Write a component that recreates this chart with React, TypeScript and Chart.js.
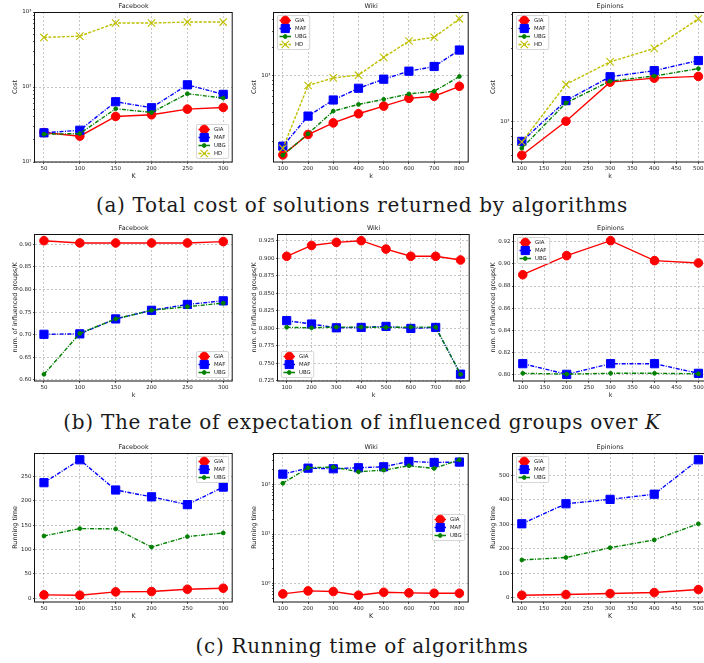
import React, { useEffect, useRef } from 'react';
import { Chart, registerables } from 'chart.js';

Chart.register(...registerables);
Chart.defaults.font.family = '"DejaVu Sans", sans-serif';

// ---------- categories / ticks ----------
const FB_K = [50, 100, 150, 200, 250, 300];
const WIKI_K = [100, 200, 300, 400, 500, 600, 700, 800];
const EPI_K = [100, 200, 300, 400, 500];
const FB_XTICKS = [50, 100, 150, 200, 250, 300];
const WIKI_XTICKS = [100, 200, 300, 400, 500, 600, 700, 800];
const EPI_XTICKS = [100, 150, 200, 250, 300, 350, 400, 450, 500];

// ---------- (a) cost ----------
const FB_COST_GIA = [24.7, 22.1, 40.5, 42.6, 50.7, 53.4];
const FB_COST_MAF = [24.5, 26.5, 63.6, 52.9, 107, 79.7];
const FB_COST_UBG = [23.5, 23.9, 51.3, 45.8, 81.4, 71.2];
const FB_COST_HD = [458, 477, 713, 713, 734, 734];
const WIKI_COST_GIA = [142, 235, 313, 392, 474, 574, 604, 773];
const WIKI_COST_MAF = [176, 370, 551, 736, 921, 1122, 1261, 1892];
const WIKI_COST_UBG = [141, 239, 419, 494, 560, 640, 683, 984];
const WIKI_COST_HD = [167, 787, 951, 1017, 1578, 2366, 2593, 4090];
const EPI_COST_GIA = [600, 1000, 1799, 1911, 1960];
const EPI_COST_MAF = [738, 1362, 1950, 2136, 2488];
const EPI_COST_UBG = [667, 1315, 1826, 1971, 2203];
const EPI_COST_HD = [731, 1737, 2437, 2985, 4656];
const FB_COST_YTICKS = [10, 100, 1000];
const WIKI_COST_YTICKS = [1000];
const EPI_COST_YTICKS = [1000];

// ---------- (b) rate ----------
const FB_RATE_GIA = [0.908, 0.903, 0.903, 0.903, 0.903, 0.906];
const FB_RATE_MAF = [0.701, 0.702, 0.735, 0.754, 0.767, 0.775];
const FB_RATE_UBG = [0.6125, 0.703, 0.735, 0.754, 0.762, 0.77];
const WIKI_RATE_GIA = [0.9027, 0.9182, 0.9226, 0.925, 0.913, 0.9027, 0.9027, 0.8974];
const WIKI_RATE_MAF = [0.8107, 0.8059, 0.8005, 0.801, 0.8025, 0.7996, 0.801, 0.7342];
const WIKI_RATE_UBG = [0.8012, 0.8005, 0.8015, 0.8015, 0.801, 0.8015, 0.8015, 0.734];
const EPI_RATE_GIA = [0.8902, 0.9074, 0.9209, 0.9029, 0.9008];
const EPI_RATE_MAF = [0.8099, 0.8003, 0.8099, 0.8099, 0.8012];
const EPI_RATE_UBG = [0.8012, 0.8005, 0.8012, 0.8012, 0.8008];
const FB_RATE_YTICKS = [0.6, 0.65, 0.7, 0.75, 0.8, 0.85, 0.9];
const WIKI_RATE_YTICKS = [0.725, 0.75, 0.775, 0.8, 0.825, 0.85, 0.875, 0.9, 0.925];
const EPI_RATE_YTICKS = [0.8, 0.82, 0.84, 0.86, 0.88, 0.9, 0.92];

// ---------- (c) running time ----------
const FB_TIME_GIA = [6.9, 6.2, 13, 13.7, 18.5, 20.6];
const FB_TIME_MAF = [237, 284, 222, 208, 192, 228];
const FB_TIME_UBG = [127.7, 142.9, 142.2, 105, 126.4, 134];
const WIKI_TIME_GIA = [0.618, 0.71, 0.689, 0.581, 0.667, 0.647, 0.637, 0.637];
const WIKI_TIME_MAF = [162, 214, 208, 218, 228, 292, 279, 284];
const WIKI_TIME_UBG = [106, 218, 225, 181, 195, 239, 211, 316];
const EPI_TIME_GIA = [9.6, 12.3, 16.4, 20.5, 32.8];
const EPI_TIME_MAF = [302, 384, 402, 423, 564];
const EPI_TIME_UBG = [154, 164, 204, 236, 302];
const FB_TIME_YTICKS = [0, 50, 100, 150, 200, 250];
const WIKI_TIME_YTICKS = [1, 10, 100];
const EPI_TIME_YTICKS = [0, 100, 200, 300, 400, 500];

// ---------- styles ----------
const STYLE: Record<string, any> = {
  GIA: { color: '#ff0000', dash: [], pointStyle: 'circle', r: 4.3, bw: 1 },
  MAF: { color: '#0000ff', dash: [4, 1.4, 1, 1.4], pointStyle: 'rect', r: 5.8, bw: 1 },
  UBG: { color: '#008000', dash: [4, 1.4, 1, 1.4], pointStyle: 'circle', r: 1.9, bw: 1 },
  HD: { color: '#bfbf00', dash: [3, 1.5], pointStyle: 'crossRot', r: 5.2, bw: 1.1 },
};

const TEXT = '#222';
const GRID = 'rgba(170,170,170,0.85)';
const TICK_FS = 5.5;
const LABEL_FS = 6.4;
const TITLE_FS = 6.4;
const LEG_FS = 5.4;
const LINE_W = 1.4;

const ROW1 = { top: 12, bottom: 162 };
const ROW2 = { top: 234, bottom: 381 };
const ROW3 = { top: 453, bottom: 602 };

const SUPER: Record<string, string> = { '0': '⁰', '1': '¹', '2': '²', '3': '³', '4': '⁴', '5': '⁵', '-': '⁻' };
function sup(n: number) {
  return String(n).split('').map((c) => SUPER[c] || c).join('');
}

const SUBPLOTS: any[] = [
  // row 1
  { title: 'Facebook', xLabel: 'K', yLabel: 'Cost', k: FB_K, xticks: FB_XTICKS, log: true, yticks: FB_COST_YTICKS, yLimits: [10, 1000], legend: 'lower right',
    series: [['GIA', FB_COST_GIA], ['MAF', FB_COST_MAF], ['UBG', FB_COST_UBG], ['HD', FB_COST_HD]],
    g: { colLeft: 0, left: 35, right: 237, ...ROW1, yLabelX: 15 } },
  { title: 'Wiki', xLabel: 'k', yLabel: 'Cost', k: WIKI_K, xticks: WIKI_XTICKS, log: true, yticks: WIKI_COST_YTICKS, legend: 'upper left',
    series: [['GIA', WIKI_COST_GIA], ['MAF', WIKI_COST_MAF], ['UBG', WIKI_COST_UBG], ['HD', WIKI_COST_HD]],
    g: { colLeft: 238, left: 274, right: 473, ...ROW1, yLabelX: 254 } },
  { title: 'Epinions', xLabel: 'k', yLabel: 'Cost', k: EPI_K, xticks: EPI_XTICKS, log: true, yticks: EPI_COST_YTICKS, legend: 'upper left',
    series: [['GIA', EPI_COST_GIA], ['MAF', EPI_COST_MAF], ['UBG', EPI_COST_UBG], ['HD', EPI_COST_HD]],
    g: { colLeft: 474, left: 513, right: 712, ...ROW1, yLabelX: 493 } },
  // row 2
  { title: 'Facebook', xLabel: 'k', yLabel: 'num. of influenced groups/K', k: FB_K, xticks: FB_XTICKS, log: false, yticks: FB_RATE_YTICKS, dec: 2, legend: 'lower right',
    series: [['GIA', FB_RATE_GIA], ['MAF', FB_RATE_MAF], ['UBG', FB_RATE_UBG]],
    g: { colLeft: 0, left: 35, right: 237, ...ROW2, yLabelX: 15 } },
  { title: 'Wiki', xLabel: 'k', yLabel: 'num. of influenced groups/K', k: WIKI_K, xticks: WIKI_XTICKS, log: false, yticks: WIKI_RATE_YTICKS, dec: 3, legend: 'lower left',
    series: [['GIA', WIKI_RATE_GIA], ['MAF', WIKI_RATE_MAF], ['UBG', WIKI_RATE_UBG]],
    g: { colLeft: 238, left: 278, right: 474, ...ROW2, yLabelX: 254 } },
  { title: 'Epinions', xLabel: 'k', yLabel: 'num. of influenced groups/K', k: EPI_K, xticks: EPI_XTICKS, log: false, yticks: EPI_RATE_YTICKS, dec: 2, legend: 'upper left',
    series: [['GIA', EPI_RATE_GIA], ['MAF', EPI_RATE_MAF], ['UBG', EPI_RATE_UBG]],
    g: { colLeft: 474, left: 514, right: 712, ...ROW2, yLabelX: 493 } },
  // row 3
  { title: 'Facebook', xLabel: 'K', yLabel: 'Running time', k: FB_K, xticks: FB_XTICKS, log: false, yticks: FB_TIME_YTICKS, dec: 0, legend: 'upper right',
    series: [['GIA', FB_TIME_GIA], ['MAF', FB_TIME_MAF], ['UBG', FB_TIME_UBG]],
    g: { colLeft: 0, left: 35, right: 237, ...ROW3, yLabelX: 15 } },
  { title: 'Wiki', xLabel: 'K', yLabel: 'Running time', k: WIKI_K, xticks: WIKI_XTICKS, log: true, yticks: WIKI_TIME_YTICKS, legend: 'center right',
    series: [['GIA', WIKI_TIME_GIA], ['MAF', WIKI_TIME_MAF], ['UBG', WIKI_TIME_UBG]],
    g: { colLeft: 238, left: 274, right: 473, ...ROW3, yLabelX: 254 } },
  { title: 'Epinions', xLabel: 'K', yLabel: 'Running time', k: EPI_K, xticks: EPI_XTICKS, log: false, yticks: EPI_TIME_YTICKS, dec: 0, legend: 'upper left',
    series: [['GIA', EPI_TIME_GIA], ['MAF', EPI_TIME_MAF], ['UBG', EPI_TIME_UBG]],
    g: { colLeft: 474, left: 513, right: 712, ...ROW3, yLabelX: 493 } },
];

function drawMarker(ctx: CanvasRenderingContext2D, style: string, x: number, y: number, r: number, color: string, bw: number) {
  ctx.save();
  ctx.setLineDash([]);
  ctx.fillStyle = color;
  ctx.strokeStyle = color;
  ctx.lineWidth = bw;
  ctx.beginPath();
  if (style === 'circle') {
    ctx.arc(x, y, r, 0, Math.PI * 2);
    ctx.fill();
    ctx.stroke();
  } else if (style === 'rect') {
    const s = Math.SQRT1_2 * r;
    ctx.rect(x - s, y - s, 2 * s, 2 * s);
    ctx.fill();
    ctx.stroke();
  } else {
    const s = Math.SQRT1_2 * r;
    ctx.moveTo(x - s, y - s);
    ctx.lineTo(x + s, y + s);
    ctx.moveTo(x + s, y - s);
    ctx.lineTo(x - s, y + s);
    ctx.stroke();
  }
  ctx.restore();
}

const framePlugin = {
  id: 'mplFrame',
  afterDatasetsDraw(chart: any) {
    const { ctx, chartArea: a } = chart;
    ctx.save();
    ctx.setLineDash([]);
    ctx.strokeStyle = '#111';
    ctx.lineWidth = 1;
    ctx.strokeRect(a.left - 0.5, a.top + 0.5, a.right - a.left + 0.5, a.bottom - a.top - 0.5);
    ctx.restore();
  },
};

const titlePlugin = {
  id: 'mplTitle',
  afterDraw(chart: any, _args: any, opts: any) {
    const { ctx, chartArea: a } = chart;
    ctx.save();
    ctx.font = `${TITLE_FS}px "DejaVu Sans"`;
    ctx.fillStyle = TEXT;
    ctx.textAlign = 'center';
    ctx.textBaseline = 'middle';
    ctx.fillText(opts.text, (a.left + a.right) / 2, a.top - 6);
    ctx.restore();
  },
};

const legendPlugin = {
  id: 'mplLegend',
  afterDraw(chart: any, _args: any, opts: any) {
    const { ctx, chartArea: a } = chart;
    const items = chart.data.datasets.map((ds: any) => ({ label: ds.label, ...STYLE[ds.label] }));
    ctx.save();
    ctx.font = `${LEG_FS}px "DejaVu Sans"`;
    const textW = Math.max(...items.map((i: any) => ctx.measureText(i.label).width));
    const padX = 2, handle = 11.5, gap = 4, rowH = 8, padY = 1, m = 3.5;
    const w = padX * 2 + handle + gap + textW + 1;
    const h = padY * 2 + rowH * items.length;
    const [vert, horiz] = String(opts.loc).split(' ');
    const x = horiz === 'right' ? a.right - m - w : a.left + m;
    const y = vert === 'upper' ? a.top + m : vert === 'lower' ? a.bottom - m - h : (a.top + a.bottom) / 2 - h / 2;
    const rr = 1.5;
    ctx.beginPath();
    ctx.moveTo(x + rr, y);
    ctx.arcTo(x + w, y, x + w, y + h, rr);
    ctx.arcTo(x + w, y + h, x, y + h, rr);
    ctx.arcTo(x, y + h, x, y, rr);
    ctx.arcTo(x, y, x + w, y, rr);
    ctx.closePath();
    ctx.fillStyle = 'rgba(255,255,255,0.8)';
    ctx.fill();
    ctx.strokeStyle = '#cccccc';
    ctx.lineWidth = 0.8;
    ctx.stroke();
    items.forEach((it: any, i: number) => {
      const cy = y + padY + rowH * (i + 0.5);
      const x0 = x + padX, x1 = x0 + handle;
      ctx.save();
      ctx.setLineDash(it.dash);
      ctx.strokeStyle = it.color;
      ctx.lineWidth = LINE_W;
      ctx.beginPath();
      ctx.moveTo(x0, cy);
      ctx.lineTo(x1, cy);
      ctx.stroke();
      ctx.restore();
      drawMarker(ctx, it.pointStyle, (x0 + x1) / 2, cy, it.r, it.color, it.bw);
      ctx.fillStyle = TEXT;
      ctx.textAlign = 'left';
      ctx.textBaseline = 'middle';
      ctx.fillText(it.label, x1 + gap, cy + 0.3);
    });
    ctx.restore();
  },
};

function logTicks(min: number, max: number) {
  const out: number[] = [];
  for (let e = Math.floor(Math.log10(min)); e <= Math.ceil(Math.log10(max)); e++) {
    for (let mm = 1; mm < 10; mm++) {
      const v = mm * Math.pow(10, e);
      if (v >= min * 0.9999 && v <= max * 1.0001) out.push(v);
    }
  }
  return out;
}

function buildConfig(p: any) {
  const g = p.g;
  const kmin = Math.min(...p.k), kmax = Math.max(...p.k);
  const xr = kmax - kmin;
  const all: number[] = p.series.flatMap((s: any) => s[1]);
  let ymin: number, ymax: number;
  if (p.yLimits) {
    [ymin, ymax] = p.yLimits;
  } else if (p.log) {
    const lo = Math.log10(Math.min(...all)), hi = Math.log10(Math.max(...all));
    const mg = 0.05 * (hi - lo);
    ymin = Math.pow(10, lo - mg);
    ymax = Math.pow(10, hi + mg);
  } else {
    const lo = Math.min(...all), hi = Math.max(...all);
    const mg = 0.05 * (hi - lo);
    ymin = lo - mg;
    ymax = hi + mg;
  }
  const isMajor = (v: number) => p.yticks.some((t: number) => Math.abs(t - v) <= Math.abs(t) * 1e-6 + 1e-9);
  const yTickValues = p.log ? logTicks(ymin, ymax) : p.yticks;
  const lh = LABEL_FS * 1.2;

  const datasets = p.series.map((s: any, i: number) => {
    const st = STYLE[s[0]];
    return {
      label: s[0],
      data: p.k.map((k: number, j: number) => ({ x: k, y: s[1][j] })),
      borderColor: st.color,
      backgroundColor: st.color,
      borderWidth: LINE_W,
      borderDash: st.dash,
      pointStyle: st.pointStyle,
      pointRadius: st.r,
      pointBackgroundColor: st.color,
      pointBorderColor: st.color,
      pointBorderWidth: st.bw,
      tension: 0,
      fill: false,
      order: -i,
    };
  });

  return {
    type: 'line',
    data: { datasets },
    plugins: [framePlugin, titlePlugin, legendPlugin],
    options: {
      animation: false,
      responsive: false,
      maintainAspectRatio: false,
      events: [],
      layout: { padding: { top: 12, right: 2, left: 0, bottom: 0 } },
      plugins: {
        legend: { display: false },
        tooltip: { enabled: false },
        mplTitle: { text: p.title },
        mplLegend: { loc: p.legend },
      },
      scales: {
        x: {
          type: 'linear',
          min: kmin - 0.05 * xr,
          max: kmax + 0.05 * xr,
          afterBuildTicks: (s: any) => { s.ticks = p.xticks.map((v: number) => ({ value: v })); },
          afterFit: (s: any) => { s.height = 20; },
          ticks: { autoSkip: false, maxRotation: 0, minRotation: 0, padding: 1, color: TEXT, font: { size: TICK_FS }, callback: (v: any) => String(v) },
          grid: { color: GRID, lineWidth: 0.8, tickLength: 2, tickColor: '#333', tickWidth: 0.8 },
          border: { display: false, dash: [2, 2] },
          title: { display: true, text: p.xLabel, color: TEXT, font: { size: LABEL_FS }, padding: { top: 0, bottom: 6 - lh / 2 } },
        },
        y: {
          type: p.log ? 'logarithmic' : 'linear',
          position: 'left',
          min: ymin,
          max: ymax,
          afterBuildTicks: (s: any) => { s.ticks = yTickValues.map((v: number) => ({ value: v, major: p.log ? isMajor(v) : true })); },
          afterFit: (s: any) => { s.width = g.left - g.colLeft; },
          ticks: {
            autoSkip: false,
            padding: 1.5,
            color: TEXT,
            font: { size: TICK_FS },
            callback: (v: any) => {
              const n = Number(v);
              if (p.log) return isMajor(n) ? '10' + sup(Math.round(Math.log10(n))) : '';
              return n.toFixed(p.dec);
            },
          },
          grid: {
            color: (c: any) => (c.tick && (!p.log || isMajor(c.tick.value)) ? GRID : 'rgba(0,0,0,0)'),
            lineWidth: 0.8,
            tickLength: 2,
            tickColor: '#333',
            tickWidth: 0.8,
          },
          border: { display: false, dash: [2, 2] },
          title: { display: true, text: p.yLabel, color: TEXT, font: { size: LABEL_FS }, padding: { top: g.yLabelX - g.colLeft - lh / 2, bottom: 0 } },
        },
      },
    },
  };
}

function Subplot({ p }: { p: any }) {
  const ref = useRef<HTMLCanvasElement>(null);
  const g = p.g;
  const w = g.right + 2 - g.colLeft;
  const h = g.bottom + 20 - (g.top - 12);
  useEffect(() => {
    const chart = new Chart(ref.current as HTMLCanvasElement, buildConfig(p) as any);
    return () => chart.destroy();
  }, []);
  return (
    <canvas
      ref={ref}
      width={w}
      height={h}
      style={{ position: 'absolute', left: g.colLeft, top: g.top - 12, width: w, height: h }}
    />
  );
}

const CAP_STYLE: React.CSSProperties = {
  position: 'absolute',
  left: 0,
  width: 724,
  textAlign: 'center',
  fontFamily: '"DejaVu Serif", serif',
  fontSize: 20,
  lineHeight: '24px',
  letterSpacing: '0.7px',
  whiteSpace: 'nowrap',
  color: '#1a1a1a',
};

export default function App() {
  return (
    <div style={{ position: 'absolute', left: 0, top: 0, width: 704, height: 663, overflow: 'hidden', background: '#fff' }}>
      {SUBPLOTS.map((p, i) => (
        <Subplot key={i} p={p} />
      ))}
      <div style={{ ...CAP_STYLE, top: 193 }}>(a) Total cost of solutions returned by algorithms</div>
      <div style={{ ...CAP_STYLE, top: 410 }}>
        (b) The rate of expectation of influenced groups over <i>K</i>
      </div>
      <div style={{ ...CAP_STYLE, top: 634 }}>(c) Running time of algorithms</div>
    </div>
  );
}
